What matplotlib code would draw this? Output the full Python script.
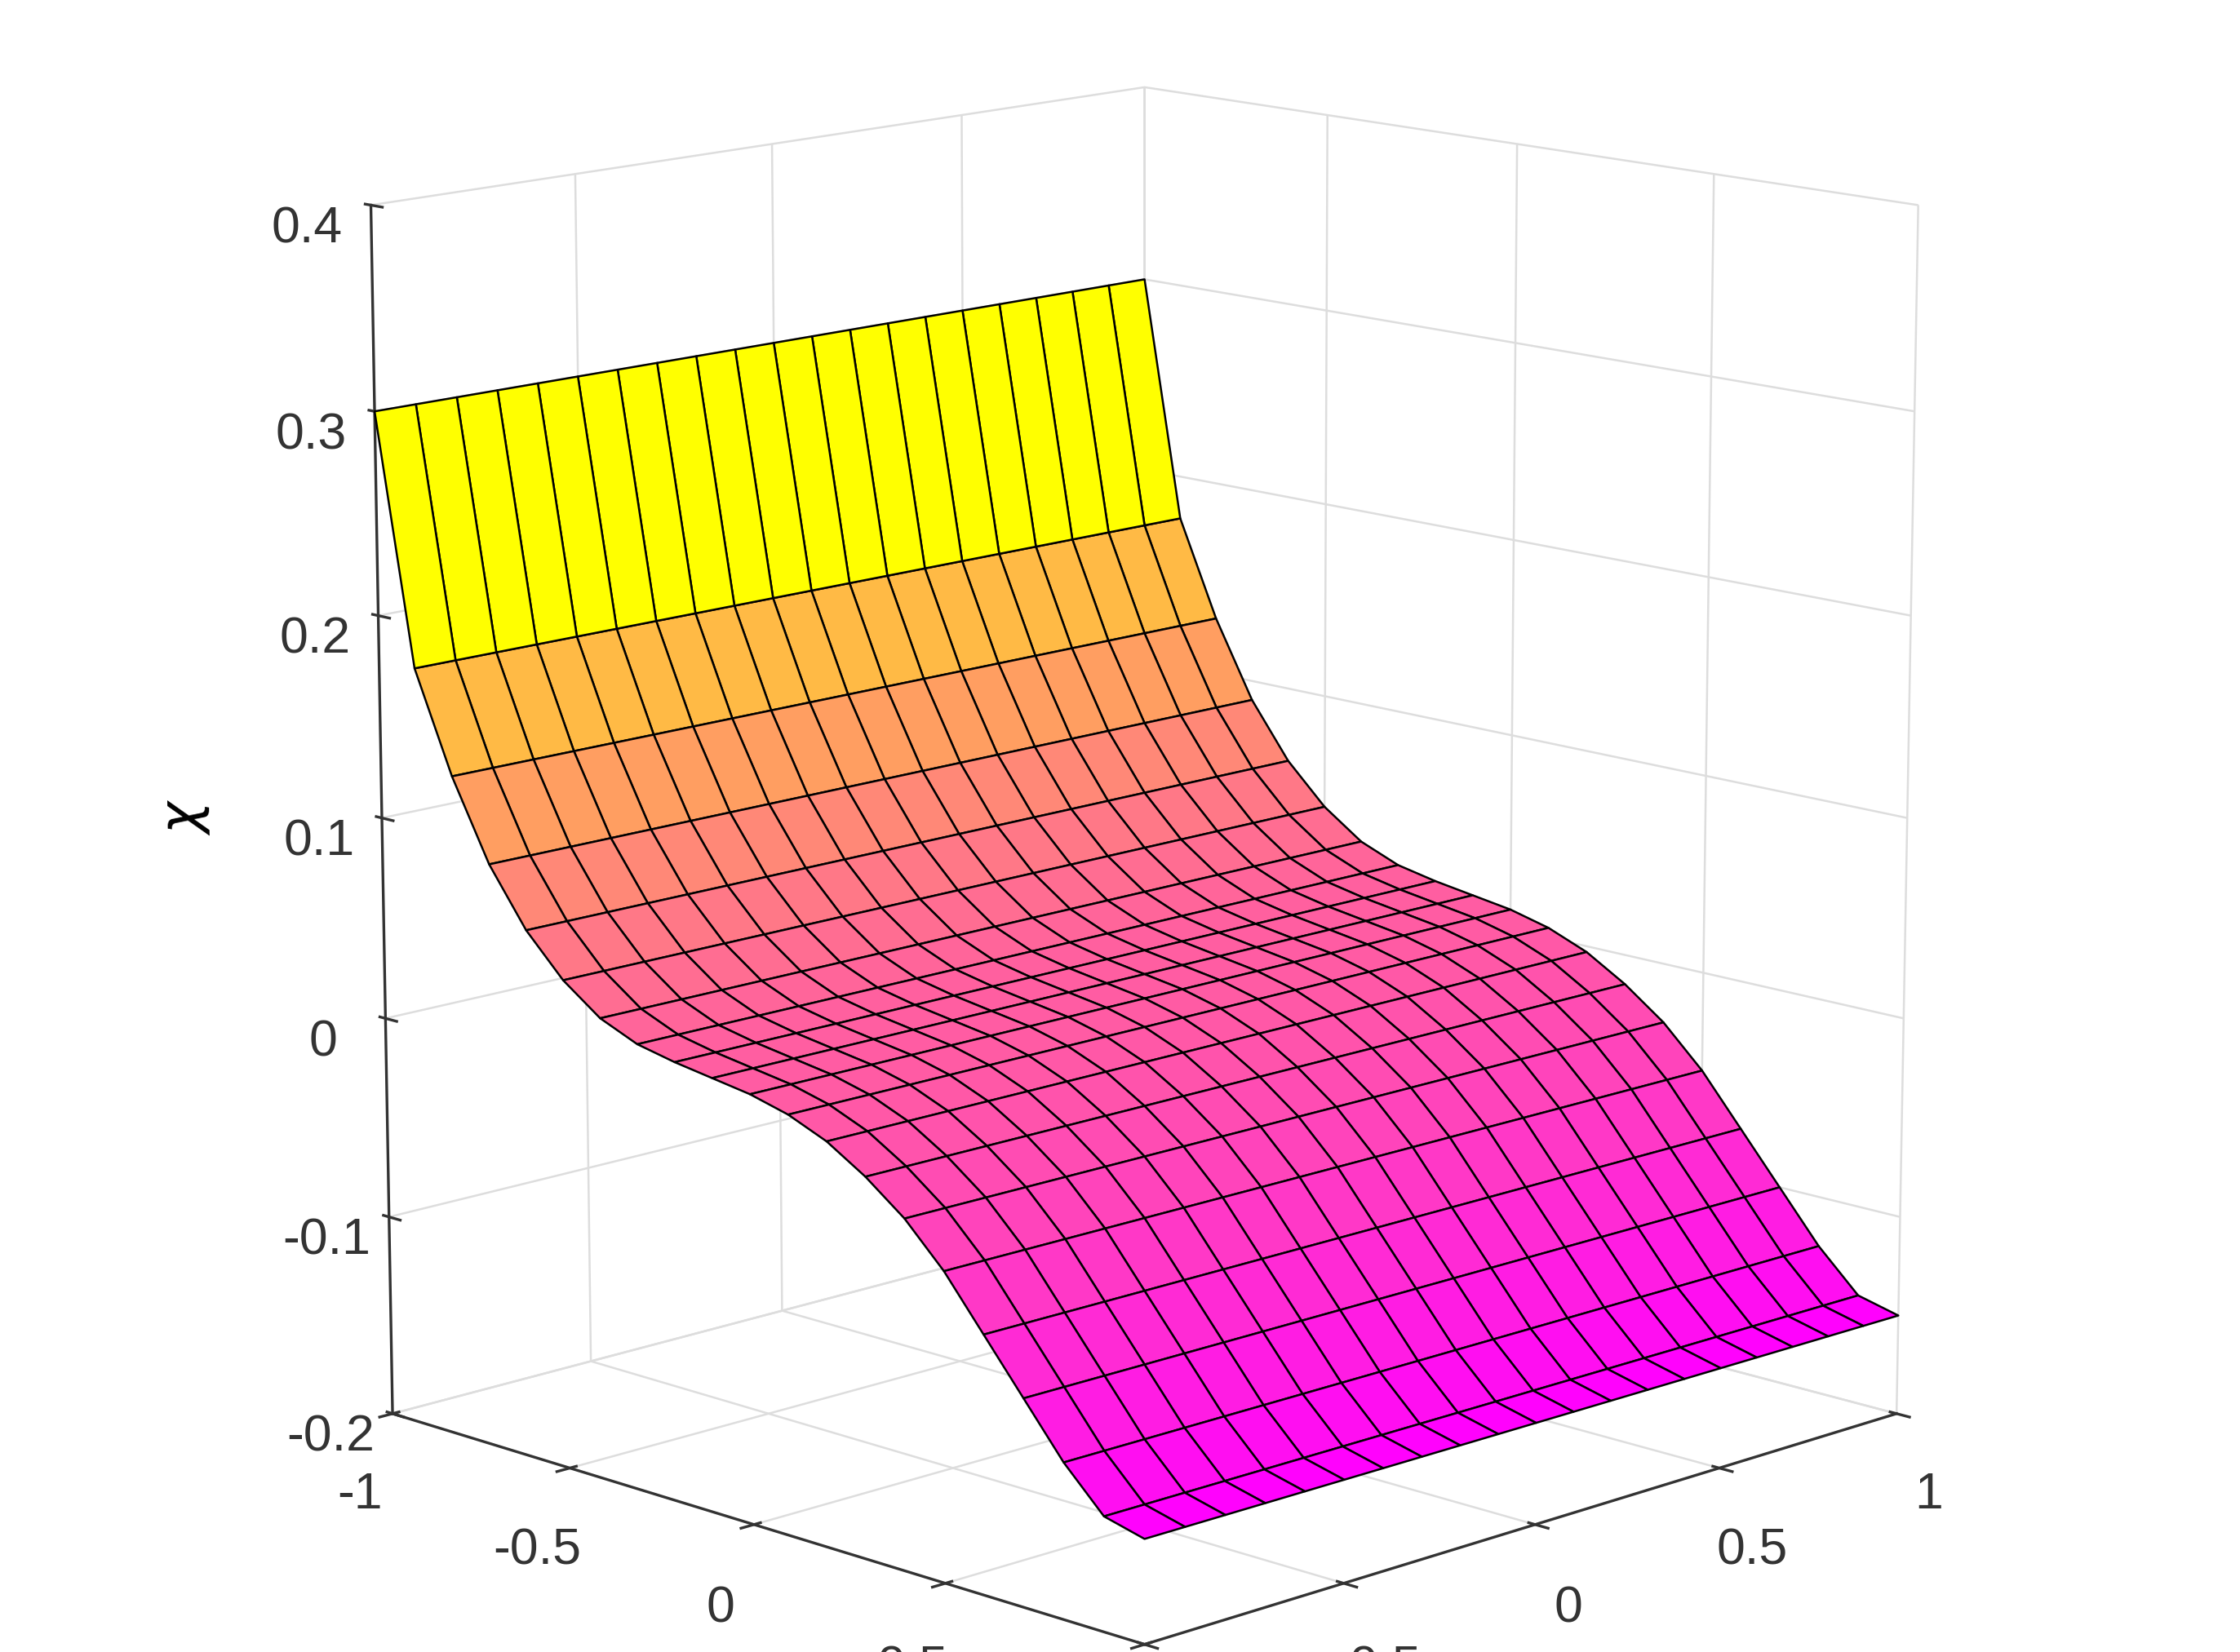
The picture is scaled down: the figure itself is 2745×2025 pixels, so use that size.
import numpy as np
import matplotlib
matplotlib.use('Agg')
import matplotlib.pyplot as plt
from matplotlib import cm, colors

plt.rcParams['font.family'] = ['Liberation Sans', 'DejaVu Sans']

# grid and chi(x) profile (surface is constant along p)
x_vals = np.linspace(-1, 1, 21)
p_vals = np.linspace(-1, 1, 21)
chi_profile = [0.30, 0.178, 0.129, 0.090, 0.062, 0.042, 0.028, 0.020, 0.016, 0.013,
               0.010, 0.005, -0.003, -0.015, -0.030, -0.050, -0.075, -0.100, -0.125,
               -0.145, -0.150]

X, P = np.meshgrid(x_vals, p_vals, indexing='ij')
Z = np.repeat(np.array(chi_profile)[:, None], len(p_vals), axis=1)

norm = colors.Normalize(vmin=min(chi_profile), vmax=max(chi_profile))
fc = cm.spring(norm(Z))

fig = plt.figure(figsize=(9.15, 6.75), dpi=300)
ax = fig.add_axes([-0.02, -0.06, 1.04, 1.1], projection='3d')
ax.plot_surface(X, P, Z, facecolors=fc, rstride=1, cstride=1,
                edgecolor='black', linewidth=0.6, shade=False, antialiased=True)

ax.set_xlim(-1, 1)
ax.set_ylim(-1, 1)
ax.set_zlim(-0.2, 0.4)
ax.set_xticks([-1, -0.5, 0, 0.5, 1])
ax.set_yticks([-1, -0.5, 0, 0.5, 1])
ax.set_zticks([-0.2, -0.1, 0, 0.1, 0.2, 0.3, 0.4])
ax.set_xticklabels(['-1', '-0.5', '0', '0.5', '1'])
ax.set_yticklabels(['-1', '-0.5', '0', '0.5', '1'])
ax.set_zticklabels(['-0.2', '-0.1', '0', '0.1', '0.2', '0.3', '0.4'])
ax.tick_params(labelsize=15, colors='#333333')
ax.set_xlabel('x', fontsize=16, labelpad=12)
ax.set_ylabel('p', fontsize=16, labelpad=12)
ax.set_zlabel(r'$\chi$', fontsize=16, labelpad=14)

for axis in (ax.xaxis, ax.yaxis, ax.zaxis):
    axis.set_pane_color((1, 1, 1, 1))
    axis.line.set_color('#333333')
    axis._axinfo['grid']['color'] = '#dddddd'
    axis._axinfo['grid']['linewidth'] = 0.6
ax.zaxis._axinfo['juggled'] = (1, 2, 0)

ax.view_init(elev=13, azim=-45)
ax.set_box_aspect((1, 1, 1.15), zoom=1.05)

fig.savefig('out.png', dpi=300)
